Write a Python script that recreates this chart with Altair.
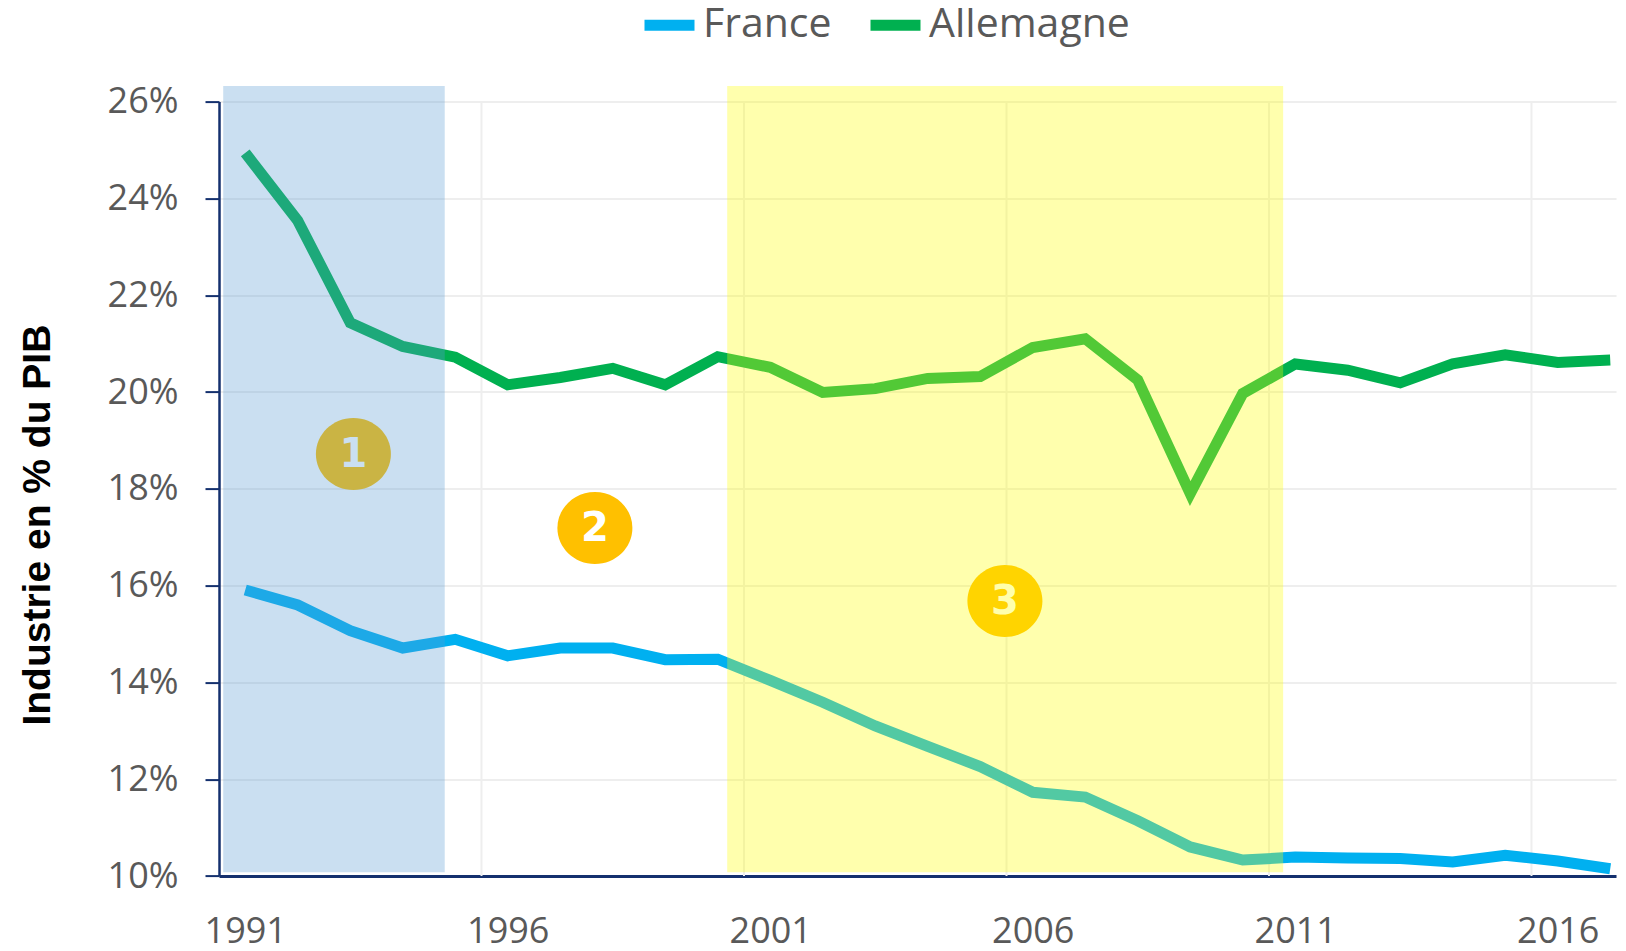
import altair as alt
import pandas as pd

# ---------------- data ----------------
years = list(range(1991, 2018))
france = [15.91, 15.60, 15.07, 14.71, 14.89, 14.55, 14.71, 14.71, 14.47, 14.48,
          14.04, 13.59, 13.10, 12.68, 12.26, 11.73, 11.63, 11.14, 10.60, 10.33,
          10.39, 10.37, 10.36, 10.29, 10.43, 10.31, 10.15]
allemagne = [24.94, 23.54, 21.43, 20.94, 20.72, 20.15, 20.30, 20.49, 20.15, 20.73,
             20.51, 19.99, 20.07, 20.28, 20.32, 20.92, 21.10, 20.25, 17.90, 19.97,
             20.58, 20.45, 20.19, 20.58, 20.77, 20.61, 20.66]
series_names = ["France", "Allemagne"]
series_colors = ["#00B0F0", "#00B050"]

x_tick_years = [1991, 1996, 2001, 2006, 2011, 2016]
y_ticks = [10, 12, 14, 16, 18, 20, 22, 24, 26]

# shaded periods (start, end) in years, and vertical extent in %
period_start = [1990.58, 2000.18]
period_end = [1994.80, 2010.77]
period_colors = ["#5B9BD5", "#FFFF00"]
period_low = [10.08, 10.08]
period_high = [26.32, 26.32]

# numbered markers
marker_x = [1993.06, 1997.66, 2005.47]
marker_y = [18.72, 17.19, 15.68]
marker_label = ["1", "2", "3"]

# ---------------- tables ----------------
lines_df = pd.DataFrame({
    "annee": years * 2,
    "valeur": france + allemagne,
    "pays": ["France"] * len(years) + ["Allemagne"] * len(years),
})
periods_df = pd.DataFrame({"x1": period_start, "x2": period_end,
                           "y1": period_low, "y2": period_high,
                           "c": period_colors})
markers_df = pd.DataFrame({"x": marker_x, "y": marker_y, "t": marker_label})
vgrid_df = pd.DataFrame({"x": [y - 0.5 for y in x_tick_years[1:]]})

X_DOM = [1990.5, 2017.11]
Y_DOM = [10, 26]
NAVY = "#14306E"

xs = alt.Scale(domain=X_DOM, nice=False, zero=False)
ys = alt.Scale(domain=Y_DOM, nice=False, zero=False)

vgrid = alt.Chart(vgrid_df).mark_rule(color="#EEEEEE", strokeWidth=2).encode(
    x=alt.X("x:Q", scale=xs),
    y=alt.datum(10),
    y2=alt.datum(26),
)

lines = alt.Chart(lines_df).mark_line(
    strokeWidth=11, strokeJoin="miter", strokeCap="butt"
).encode(
    x=alt.X("annee:Q", scale=xs,
            axis=alt.Axis(values=x_tick_years, format="d", grid=False, ticks=False,
                          tickSize=0, domainColor=NAVY, domainWidth=3,
                          labelFont="Open Sans", labelFontSize=36,
                          labelColor="#595959", labelPadding=38, title=None,
                          labelFlush=False, labelOverlap=False)),
    y=alt.Y("valeur:Q", scale=ys,
            axis=alt.Axis(values=y_ticks, labelExpr="datum.value + '%'",
                          grid=True, gridColor="#EEEEEE", gridWidth=2,
                          domainColor=NAVY, domainWidth=2.5,
                          tickColor=NAVY, tickWidth=2, tickSize=14,
                          labelFont="Open Sans", labelFontSize=36,
                          labelColor="#595959", labelPadding=27,
                          title="Industrie en % du PIB",
                          titleFont="Liberation Sans", titleFontWeight="bold",
                          titleFontSize=39, titleColor="#000000",
                          titleAngle=270, titleX=-182, titleY=423,
                          titleAlign="center", titleBaseline="middle")),
    color=alt.Color("pays:N",
                    scale=alt.Scale(domain=series_names, range=series_colors),
                    sort=series_names,
                    legend=alt.Legend(title=None, orient="none", direction="horizontal",
                                      legendX=420, legendY=-107,
                                      symbolType="stroke", symbolSize=2500,
                                      symbolStrokeWidth=11,
                                      labelFont="Open Sans", labelFontSize=41,
                                      labelColor="#595959", labelOffset=3,
                                      labelLimit=0,
                                      columnPadding=16, padding=0)),
    detail="pays:N",
)

ellipse = ("M-1,0C-1,-0.53,-0.552,-0.96,0,-0.96C0.552,-0.96,1,-0.53,1,0"
           "C1,0.53,0.552,0.96,0,0.96C-0.552,0.96,-1,0.53,-1,0Z")

circles = alt.Chart(markers_df).mark_point(
    shape=ellipse, size=5625, filled=True, color="#FFC000", opacity=1, strokeWidth=0
).encode(
    x=alt.X("x:Q", scale=xs),
    y=alt.Y("y:Q", scale=ys),
)

texts = alt.Chart(markers_df).mark_text(
    font="DejaVu Sans", fontWeight="bold", fontSize=40, color="#FFFFFF",
    align="center", baseline="middle", dy=1
).encode(
    x=alt.X("x:Q", scale=xs),
    y=alt.Y("y:Q", scale=ys),
    text="t:N",
)

periods = alt.Chart(periods_df).mark_rect(opacity=0.32).encode(
    x=alt.X("x1:Q", scale=xs),
    x2="x2:Q",
    y=alt.Y("y1:Q", scale=ys),
    y2="y2:Q",
    color=alt.Color("c:N", scale=None, legend=None),
)

chart = alt.layer(vgrid, lines, circles, texts, periods).properties(
    width=1397, height=774.4,
    autosize=alt.AutoSizeParams(type="none"),
    padding={"left": 211, "top": 93.6, "right": 2, "bottom": 75},
    background="#FFFFFF",
).configure_view(stroke=None)

chart.save("out.html", embed_options={"renderer": "svg", "actions": False})
